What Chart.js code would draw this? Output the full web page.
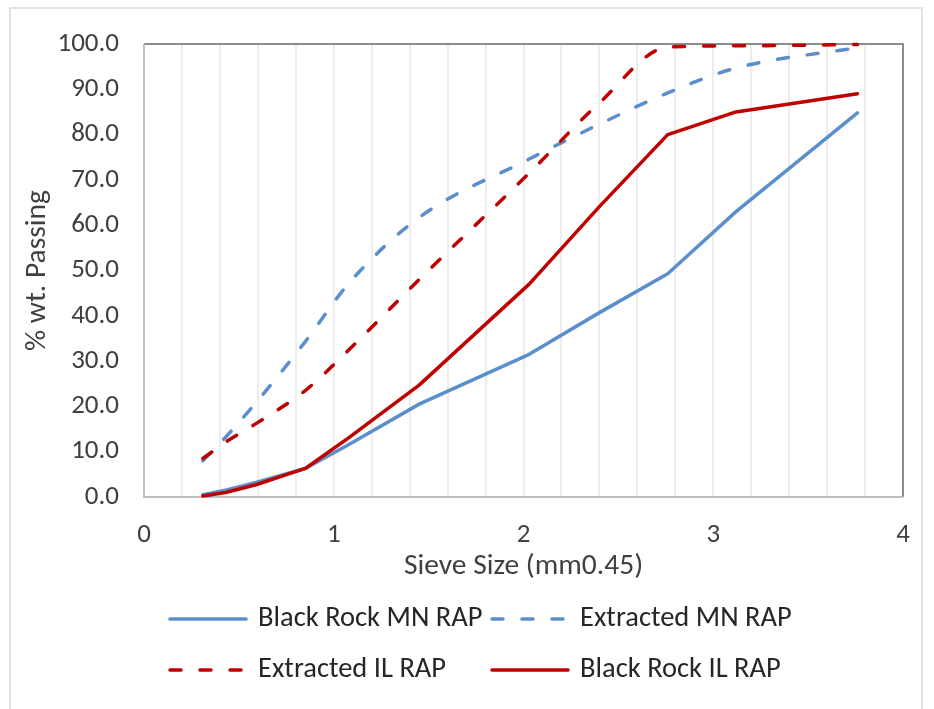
<!DOCTYPE html>
<html>
<head>
<meta charset="utf-8">
<script src="https://cdn.jsdelivr.net/npm/chart.js@4.4.0/dist/chart.umd.min.js"></script>
<style>
  html, body { margin: 0; padding: 0; background: #fff; }
  #wrap { width: 934px; height: 709px; position: relative; }
</style>
</head>
<body>
<div id="wrap"><canvas id="chart" width="934" height="709"></canvas></div>
<script>
// sieve size in mm^0.45
const sieveX      = [0.31, 0.43, 0.59, 0.85, 1.08, 1.45, 2.03, 2.40, 2.76, 3.12, 3.76];
const blackRockMN = [0.5, 1.5, 3.2, 6.3, 11.6, 20.5, 31.5, 40.7, 49.3, 63.0, 84.8];
const extractedMN = [8.0, 13.2, 20.8, 34.3, 47.2, 61.7, 74.6, 82.3, 89.2, 94.7, 99.2];
const extractedIL = [8.5, 12.1, 16.2, 23.5, 32.5, 48.0, 71.5, 87.0, 99.3, 99.6, 99.9];
const blackRockIL = [0.2, 1.0, 2.7, 6.3, 13.1, 24.7, 47.0, 64.1, 80.0, 85.0, 89.0];

const labels = ['Black Rock MN RAP', 'Extracted MN RAP', 'Extracted IL RAP', 'Black Rock IL RAP'];
const BLUE = '#5b8fcb';
const RED = '#c00000';
const DASH = [11, 19];
const FONT = 'Carlito, Lato, "Open Sans", sans-serif';

const toPoints = ys => ys.map((y, i) => ({ x: sieveX[i], y }));

const datasets = [
    { label: labels[3], data: toPoints(blackRockIL), borderColor: RED, order: 0 },
    { label: labels[2], data: toPoints(extractedIL), borderColor: RED, borderDash: DASH, cubicInterpolationMode: 'monotone', order: 1 },
    { label: labels[1], data: toPoints(extractedMN), borderColor: BLUE, borderDash: DASH, cubicInterpolationMode: 'monotone', order: 2 },
    { label: labels[0], data: toPoints(blackRockMN), borderColor: BLUE, order: 3 }
].map(d => ({ borderWidth: 3.5, pointRadius: 0, borderCapStyle: 'round', borderJoinStyle: 'round', fill: false, clip: 6, ...d }));

// legend laid out in a 2x2 grid like the original
const legendLayout = [
    { label: labels[0], col: 0, row: 0 },
    { label: labels[1], col: 1, row: 0 },
    { label: labels[2], col: 0, row: 1 },
    { label: labels[3], col: 1, row: 1 }
];

const framePlugin = {
    id: 'frame',
    beforeDatasetsDraw(chart) {
        const { ctx, chartArea: a } = chart;
        ctx.save();
        ctx.lineWidth = 2;
        ctx.strokeStyle = '#8c8c8c';
        ctx.beginPath();
        ctx.moveTo(a.left, a.top); ctx.lineTo(a.right, a.top); ctx.lineTo(a.right, a.bottom);
        ctx.stroke();
        ctx.strokeStyle = '#bfbfbf';
        ctx.beginPath();
        ctx.moveTo(a.left, a.top); ctx.lineTo(a.left, a.bottom); ctx.lineTo(a.right, a.bottom);
        ctx.stroke();
        ctx.restore();
    },
    afterDraw(chart) {
        const { ctx } = chart;
        ctx.save();
        ctx.strokeStyle = '#d9d9d9';
        ctx.lineWidth = 1.5;
        ctx.strokeRect(10, 8, 912, 710);

        const colX = [168, 490], rowY = [619, 670];
        ctx.font = '28.5px ' + FONT;
        ctx.textBaseline = 'middle';
        ctx.fillStyle = '#262626';
        legendLayout.forEach(item => {
            const ds = chart.data.datasets.find(d => d.label === item.label);
            const x = colX[item.col], y = rowY[item.row];
            ctx.strokeStyle = ds.borderColor;
            ctx.lineWidth = ds.borderWidth;
            ctx.lineCap = 'round';
            ctx.setLineDash(ds.borderDash || []);
            ctx.beginPath();
            ctx.moveTo(x + 2, y); ctx.lineTo(x + 78, y);
            ctx.stroke();
            ctx.setLineDash([]);
            ctx.fillText(item.label, x + 90, y);
        });
        ctx.restore();
    }
};

new Chart(document.getElementById('chart').getContext('2d'), {
    type: 'line',
    data: { datasets },
    plugins: [framePlugin],
    options: {
        responsive: false,
        animation: false,
        layout: { padding: { left: 20, top: 44, right: 31, bottom: 125 } },
        plugins: { legend: { display: false }, tooltip: { enabled: false } },
        scales: {
            x: {
                type: 'linear', min: 0, max: 4,
                afterFit: s => { s.height = 87; },
                grid: { color: '#ededed', lineWidth: 2, drawTicks: false },
                border: { display: false },
                ticks: {
                    stepSize: 0.2, autoSkip: false, maxRotation: 0, padding: 22,
                    color: '#404040', font: { family: FONT, size: 27 },
                    callback: v => Math.abs(v - Math.round(v)) < 1e-6 ? String(Math.round(v)) : ''
                },
                title: { display: true, text: 'Sieve Size (mm0.45)', color: '#404040', font: { family: FONT, size: 29.5 }, padding: 0 }
            },
            y: {
                min: 0, max: 100,
                afterFit: s => { s.width = 124; },
                grid: { display: false, drawTicks: false },
                border: { display: false },
                ticks: {
                    stepSize: 10, padding: 25,
                    color: '#404040', font: { family: FONT, size: 27 },
                    callback: v => v.toFixed(1)
                },
                title: { display: true, text: '% wt. Passing', color: '#404040', font: { family: FONT, size: 29.5 }, padding: 0 }
            }
        }
    }
});
</script>
</body>
</html>
